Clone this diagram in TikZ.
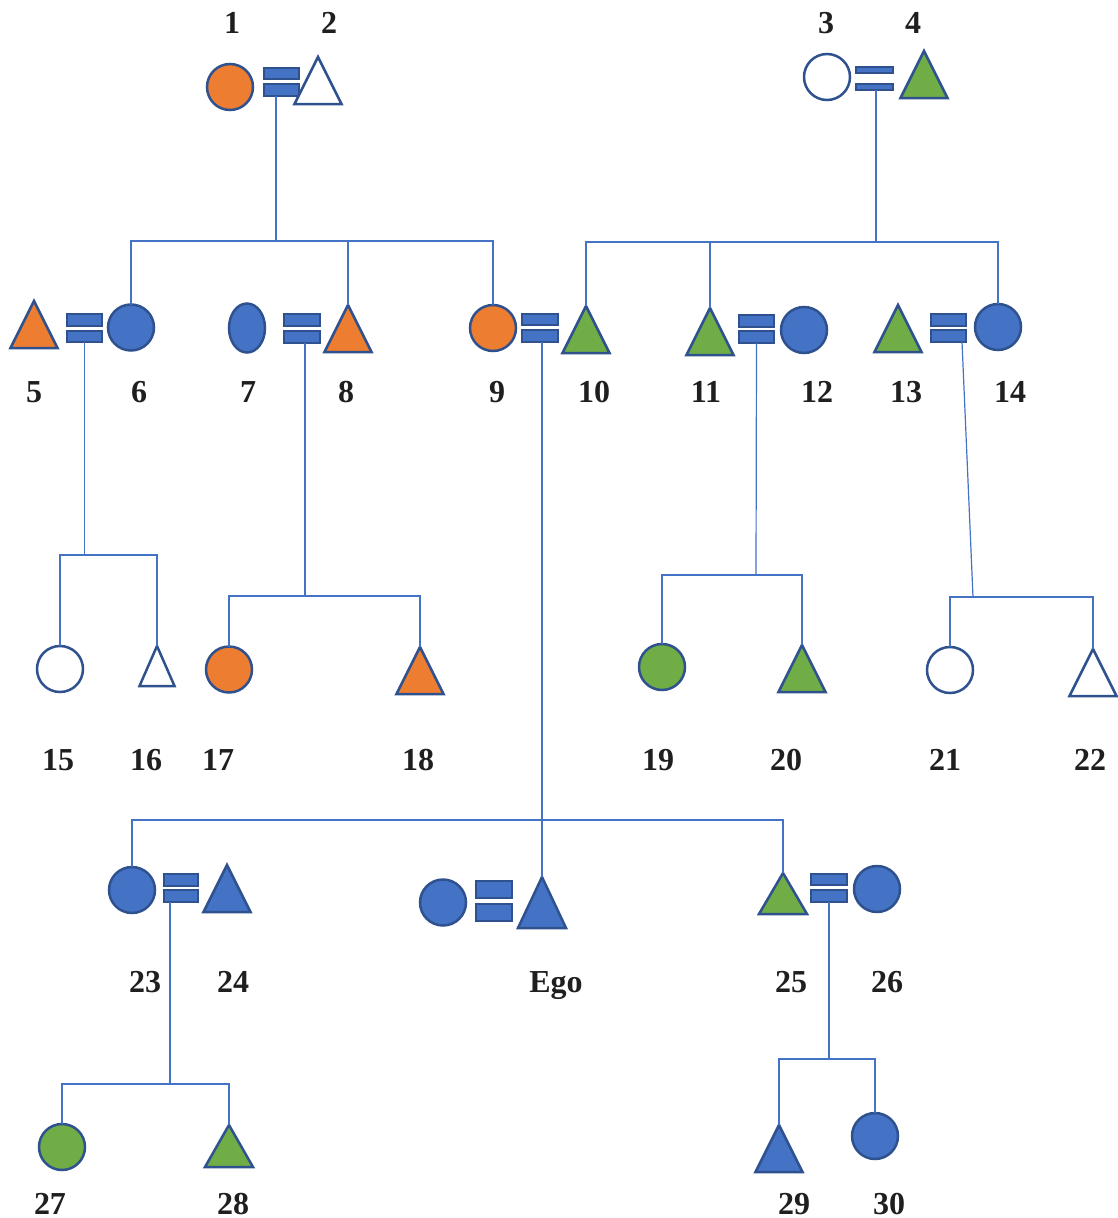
\documentclass[tikz,border=0pt]{standalone}
\usepackage{fontspec}
\setmainfont{Liberation Serif}
\usetikzlibrary{shapes.geometric}
\definecolor{kinorange}{HTML}{ED7D31}
\definecolor{kinblue}{HTML}{4472C4}
\definecolor{kingreen}{HTML}{70AD47}
\definecolor{kinedge}{HTML}{2F528F}
\tikzset{
	fem/.style={circle,draw=kinedge,line width=2.5pt,minimum size=46pt,inner sep=0pt,outer sep=0pt},
	mal/.style={isosceles triangle,isosceles triangle stretches,shape border rotate=90,draw=kinedge,line width=2.5pt,minimum width=47pt,minimum height=47pt,inner sep=0pt,outer sep=0pt,anchor=apex},
	bar/.style={rectangle,draw=kinedge,fill=kinblue,line width=1.8pt,minimum width=35.5pt,minimum height=11.5pt,inner sep=0pt,outer sep=0pt},
	link/.style={draw=kinblue,line width=1.2pt},
	lab/.style={font=\fontsize{32}{32}\selectfont\bfseries,text=black!88,anchor=base,inner sep=0pt}
}
\begin{document}
\begin{tikzpicture}[x=1pt,y=-1pt]
		\useasboundingbox (0,0) rectangle (1118,1218);
		\node[fem,fill=kinorange] (p1) at (230,87) {};
		\node[bar] (m12t) at (281.5,73.5) {};
		\node[bar] (m12) at (281.5,90) {};
		\node[mal,fill=white] (p2) at (318,57) {};
		\node[fem,fill=white] (p3) at (827,77) {};
		\node[bar,minimum width=37.5pt,minimum height=5.5pt] (m34t) at (874.5,70) {};
		\node[bar,minimum width=37.5pt,minimum height=5.5pt] (m34) at (874.5,87) {};
		\node[mal,fill=kingreen] (p4) at (924,51) {};
		\node[mal,fill=kinorange] (p5) at (34,301) {};
		\node[bar] (m56t) at (84.5,320) {};
		\node[bar] (m56) at (84.5,336.5) {};
		\node[fem,fill=kinblue] (p6) at (131,327.5) {};
		\node[fem,ellipse,minimum size=0pt,minimum width=36pt,minimum height=49pt,fill=kinblue] (p7) at (247,328) {};
		\node[bar] (m78t) at (302,320) {};
		\node[bar] (m78) at (302,337) {};
		\node[mal,fill=kinorange] (p8) at (348,305) {};
		\node[fem,fill=kinorange] (p9) at (493,328) {};
		\node[bar] (m910t) at (540,319.5) {};
		\node[bar] (m910) at (540,336) {};
		\node[mal,fill=kingreen] (p10) at (586,306) {};
		\node[mal,fill=kingreen] (p11) at (710,308) {};
		\node[bar] (m1112t) at (756.5,321) {};
		\node[bar] (m1112) at (756.5,337) {};
		\node[fem,fill=kinblue] (p12) at (804,330) {};
		\node[mal,fill=kingreen] (p13) at (898,305) {};
		\node[bar] (m1314t) at (948.5,320) {};
		\node[bar] (m1314) at (948.5,336) {};
		\node[fem,fill=kinblue] (p14) at (998,327) {};
		\node[fem,fill=white] (p15) at (60,669) {};
		\node[mal,fill=white,minimum width=35pt,minimum height=40pt] (p16) at (157,646) {};
		\node[fem,fill=kinorange] (p17) at (229,669.5) {};
		\node[mal,fill=kinorange] (p18) at (420,647) {};
		\node[fem,fill=kingreen] (p19) at (662,667) {};
		\node[mal,fill=kingreen] (p20) at (802,645) {};
		\node[fem,fill=white] (p21) at (950,670) {};
		\node[mal,fill=white] (p22) at (1093,649) {};
		\node[fem,fill=kinblue] (p23) at (132,890) {};
		\node[bar,minimum width=34pt] (m2324t) at (181,880) {};
		\node[bar,minimum width=34pt] (m2324) at (181,896) {};
		\node[mal,fill=kinblue] (p24) at (227,865) {};
		\node[fem,fill=kinblue] (pw) at (443,902.5) {};
		\node[bar,minimum width=36.5pt,minimum height=17.5pt] (megot) at (494,889.5) {};
		\node[bar,minimum width=36.5pt,minimum height=17.5pt] (mego) at (494,912.5) {};
		\node[mal,fill=kinblue,minimum width=48pt,minimum height=51pt] (pego) at (542,877) {};
		\node[mal,fill=kingreen,minimum width=48pt,minimum height=41pt] (p25) at (783,873) {};
		\node[bar] (m2526t) at (829,879.5) {};
		\node[bar] (m2526) at (829,896) {};
		\node[fem,fill=kinblue] (p26) at (877,889) {};
		\node[fem,fill=kingreen] (p27) at (62,1147) {};
		\node[mal,fill=kingreen,minimum width=48pt,minimum height=42pt] (p28) at (229,1125) {};
		\node[mal,fill=kinblue] (p29) at (779,1125) {};
		\node[fem,fill=kinblue] (p30) at (875,1136) {};

		\coordinate (s12) at (276,241);
		\draw[link] ([xshift=-5.5pt]m12.south) -- (s12);
		\draw[link] (p6.north) |- (s12) -| (p9.north);
		\draw[link] (p8.apex) -- (p8.apex |- s12);
		\coordinate (s34) at (876,242);
		\draw[link] ([xshift=1.5pt]m34.south) -- (s34);
		\draw[link] (p10.apex) |- (s34) -| (p14.north);
		\draw[link] (p11.apex) -- (p11.apex |- s34);
		\coordinate (s56) at (84.5,555);
		\draw[link] (m56.south) -- (s56);
		\draw[link] (p15.north) |- (s56) -| (p16.apex);
		\coordinate (s78) at (305,596);
		\draw[link] ([xshift=3pt]m78.south) -- (s78);
		\draw[link] (p17.north) |- (s78) -| (p18.apex);
		\coordinate (s910) at (542,820);
		\draw[link] ([xshift=2pt]m910.south) -- (s910);
		\draw[link] (p23.north) |- (s910) -| (p25.apex);
		\draw[link] (pego.apex) -- (s910);
		\coordinate (s1112) at (756,575);
		\draw[link] (m1112.south) -- (s1112);
		\draw[link] (p19.north) |- (s1112) -| (p20.apex);
		\coordinate (s1314) at (973,597);
		\draw[link] ([xshift=13.5pt]m1314.south) -- (s1314);
		\draw[link] (p21.north) |- (s1314) -| (p22.apex);
		\coordinate (s2324) at (170,1084);
		\draw[link] ([xshift=-11pt]m2324.south) -- (s2324);
		\draw[link] (p27.north) |- (s2324) -| (p28.apex);
		\coordinate (s2526) at (829,1059);
		\draw[link] (m2526.south) -- (s2526);
		\draw[link] (p29.apex) |- (s2526) -| (p30.north);

		\node[lab] (l1) at (232,33) {1};
		\node[lab] (l2) at (329,33) {2};
		\node[lab] (l3) at (826,33) {3};
		\node[lab] (l4) at (913,33) {4};
		\node[lab] (l5) at (34,402) {5};
		\node[lab] (l6) at (139,402) {6};
		\node[lab] (l7) at (248,402) {7};
		\node[lab] (l8) at (346,402) {8};
		\node[lab] (l9) at (497,402) {9};
		\node[lab] (l10) at (594,402) {10};
		\node[lab] (l11) at (706,402) {11};
		\node[lab] (l12) at (817,402) {12};
		\node[lab] (l13) at (906,402) {13};
		\node[lab] (l14) at (1010,402) {14};
		\node[lab] (l15) at (58,770) {15};
		\node[lab] (l16) at (146,770) {16};
		\node[lab] (l17) at (218,770) {17};
		\node[lab] (l18) at (418,770) {18};
		\node[lab] (l19) at (658,770) {19};
		\node[lab] (l20) at (786,770) {20};
		\node[lab] (l21) at (945,770) {21};
		\node[lab] (l22) at (1090,770) {22};
		\node[lab] (l23) at (145,992) {23};
		\node[lab] (l24) at (233,992) {24};
		\node[lab] (lego) at (556,992) {Ego};
		\node[lab] (l25) at (791,992) {25};
		\node[lab] (l26) at (887,992) {26};
		\node[lab] (l27) at (50,1214) {27};
		\node[lab] (l28) at (233,1214) {28};
		\node[lab] (l29) at (794,1214) {29};
		\node[lab] (l30) at (889,1214) {30};
	\end{tikzpicture}
\end{document}
